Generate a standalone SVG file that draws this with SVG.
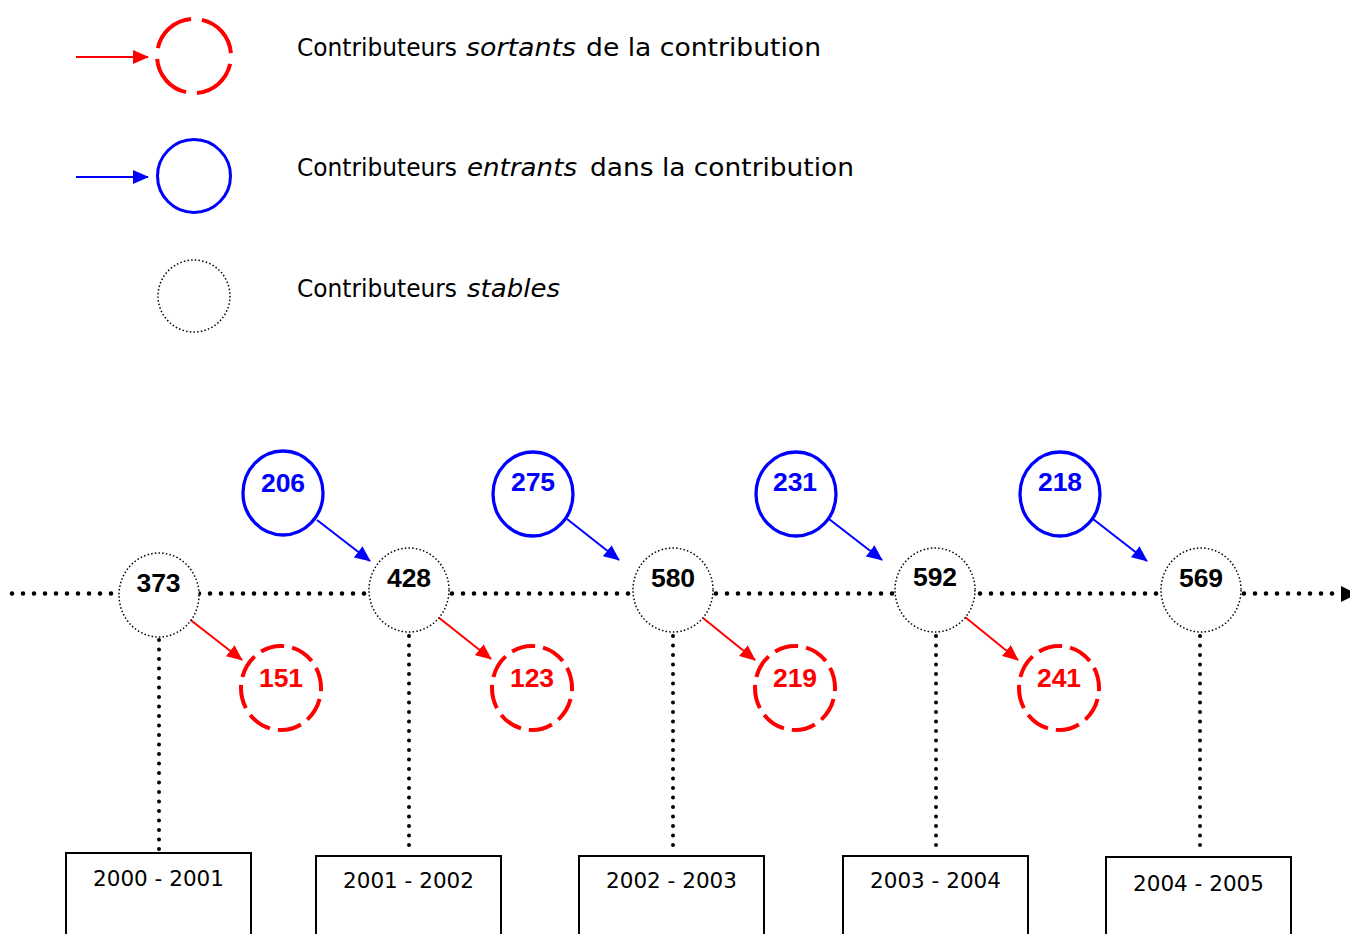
<svg xmlns="http://www.w3.org/2000/svg" width="1350" height="934" viewBox="0 0 1350 934">
<style>
.leg{font-family:"DejaVu Sans","Liberation Sans",sans-serif;font-size:25.5px;fill:#000}
.num{font-family:"Liberation Sans",Arial,sans-serif;font-size:26.5px;font-weight:bold;text-anchor:middle}
.yr{font-family:"DejaVu Sans","Liberation Sans",sans-serif;font-size:21.5px;text-anchor:middle;fill:#000}
.stable{fill:#fff;stroke:#000;stroke-width:1.5;stroke-dasharray:1.5 2.2}
.in{fill:#fff;stroke:#0000ff;stroke-width:3.3}
.out{fill:#fff;stroke:#ff0000;stroke-width:4;stroke-dasharray:30 10}
.box{fill:#fff;stroke:#000;stroke-width:2}
.hdot{stroke:#000;stroke-width:4.6;stroke-linecap:round;stroke-dasharray:0 11;fill:none}
.vdot{stroke:#000;stroke-width:4;stroke-linecap:round;stroke-dasharray:0 9.5;fill:none}
.ba{stroke:#0000ff;stroke-width:2;fill:none}
.ra{stroke:#ff0000;stroke-width:2;fill:none}
</style>
<defs>
<marker id="hb" markerUnits="userSpaceOnUse" viewBox="0 0 16 14" refX="15" refY="7" markerWidth="16" markerHeight="14" orient="auto"><path d="M0,0 L16,7 L0,14 z" fill="#0000ff"/></marker>
<marker id="hr" markerUnits="userSpaceOnUse" viewBox="0 0 16 14" refX="15" refY="7" markerWidth="16" markerHeight="14" orient="auto"><path d="M0,0 L16,7 L0,14 z" fill="#ff0000"/></marker>
</defs>
<rect width="1350" height="934" fill="#fff"/>

<g id="legend">
<line class="ra" x1="76" y1="57" x2="148" y2="57" marker-end="url(#hr)"/>
<circle cx="194" cy="56" r="37" fill="none" stroke="#ff0000" stroke-width="4" pathLength="232" stroke-dasharray="47 11" stroke-dashoffset="-8"/>
<text class="leg" y="56"><tspan x="297" textLength="160" lengthAdjust="spacingAndGlyphs">Contributeurs</tspan> <tspan x="466" font-style="italic" textLength="110" lengthAdjust="spacingAndGlyphs">sortants</tspan> <tspan x="586" textLength="235" lengthAdjust="spacingAndGlyphs">de la contribution</tspan></text>
<line class="ba" x1="76" y1="177" x2="148" y2="177" marker-end="url(#hb)"/>
<circle cx="194" cy="176" r="36.5" fill="none" stroke="#0000ff" stroke-width="3"/>
<text class="leg" y="176"><tspan x="297" textLength="160" lengthAdjust="spacingAndGlyphs">Contributeurs</tspan> <tspan x="467" font-style="italic" textLength="110" lengthAdjust="spacingAndGlyphs">entrants</tspan> <tspan x="590" textLength="264" lengthAdjust="spacingAndGlyphs">dans la contribution</tspan></text>
<circle cx="194" cy="296" r="36" fill="none" stroke="#000" stroke-width="1.5" stroke-dasharray="1.5 2.2"/>
<text class="leg" y="297"><tspan x="297" textLength="160" lengthAdjust="spacingAndGlyphs">Contributeurs</tspan> <tspan x="467" font-style="italic" textLength="93" lengthAdjust="spacingAndGlyphs">stables</tspan></text>
</g>

<g id="connectors">
<line class="hdot" x1="12" y1="593.5" x2="1338" y2="593.5"/>
<polygon points="1341,586 1357,594 1341,602" fill="#000"/>
<line class="vdot" x1="159" y1="640" x2="159" y2="851"/>
<line class="vdot" x1="409" y1="636" x2="409" y2="854"/>
<line class="vdot" x1="673" y1="636" x2="673" y2="854"/>
<line class="vdot" x1="936" y1="636" x2="936" y2="854"/>
<line class="vdot" x1="1200" y1="636" x2="1200" y2="854"/>
<line class="ba" x1="317" y1="520" x2="370" y2="561" marker-end="url(#hb)"/>
<line class="ba" x1="567" y1="519" x2="619" y2="560" marker-end="url(#hb)"/>
<line class="ba" x1="829" y1="519" x2="882" y2="560" marker-end="url(#hb)"/>
<line class="ba" x1="1093" y1="519" x2="1147" y2="561" marker-end="url(#hb)"/>
<line class="ra" x1="188" y1="618" x2="242" y2="660" marker-end="url(#hr)"/>
<line class="ra" x1="438" y1="617" x2="491" y2="659" marker-end="url(#hr)"/>
<line class="ra" x1="703" y1="618" x2="755" y2="660" marker-end="url(#hr)"/>
<line class="ra" x1="965" y1="617" x2="1018" y2="660" marker-end="url(#hr)"/>
</g>

<g id="s373"><ellipse class="stable" cx="159" cy="595" rx="40" ry="42"/><text class="num" x="158.5" y="592">373</text></g>
<g id="s428"><ellipse class="stable" cx="409" cy="590" rx="40" ry="42"/><text class="num" x="409" y="587">428</text></g>
<g id="s580"><ellipse class="stable" cx="673" cy="590" rx="40" ry="42"/><text class="num" x="673" y="587">580</text></g>
<g id="s592"><ellipse class="stable" cx="935" cy="590" rx="40" ry="42"/><text class="num" x="935" y="586">592</text></g>
<g id="s569"><ellipse class="stable" cx="1201" cy="590" rx="40" ry="42"/><text class="num" x="1201" y="587">569</text></g>

<g id="i206"><ellipse class="in" cx="283" cy="493" rx="40" ry="42"/><text class="num" x="283" y="492" fill="#0000ff">206</text></g>
<g id="i275"><ellipse class="in" cx="533" cy="494" rx="40" ry="42"/><text class="num" x="533" y="491" fill="#0000ff">275</text></g>
<g id="i231"><ellipse class="in" cx="796" cy="494" rx="40" ry="42"/><text class="num" x="795" y="491" fill="#0000ff">231</text></g>
<g id="i218"><ellipse class="in" cx="1060" cy="494" rx="40" ry="42"/><text class="num" x="1060" y="491" fill="#0000ff">218</text></g>

<g id="o151"><ellipse class="out" cx="281" cy="688" rx="40" ry="42" pathLength="320" stroke-dashoffset="-14"/><text class="num" x="281" y="687" fill="#ff0000">151</text></g>
<g id="o123"><ellipse class="out" cx="532" cy="688" rx="40" ry="42" pathLength="320" stroke-dashoffset="-14"/><text class="num" x="532" y="687" fill="#ff0000">123</text></g>
<g id="o219"><ellipse class="out" cx="795" cy="688" rx="40" ry="42" pathLength="320" stroke-dashoffset="-14"/><text class="num" x="795" y="687" fill="#ff0000">219</text></g>
<g id="o241"><ellipse class="out" cx="1059" cy="688" rx="40" ry="42" pathLength="320" stroke-dashoffset="-14"/><text class="num" x="1059" y="687" fill="#ff0000">241</text></g>

<g id="y2000"><rect class="box" x="66" y="853" width="185" height="100"/><text class="yr" x="158.5" y="886">2000 - 2001</text></g>
<g id="y2001"><rect class="box" x="316" y="856" width="185" height="100"/><text class="yr" x="408.5" y="888">2001 - 2002</text></g>
<g id="y2002"><rect class="box" x="579" y="856" width="185" height="100"/><text class="yr" x="671.5" y="888">2002 - 2003</text></g>
<g id="y2003"><rect class="box" x="843" y="856" width="185" height="100"/><text class="yr" x="935.5" y="888">2003 - 2004</text></g>
<g id="y2004"><rect class="box" x="1106" y="857" width="185" height="100"/><text class="yr" x="1198.5" y="891">2004 - 2005</text></g>
</svg>
